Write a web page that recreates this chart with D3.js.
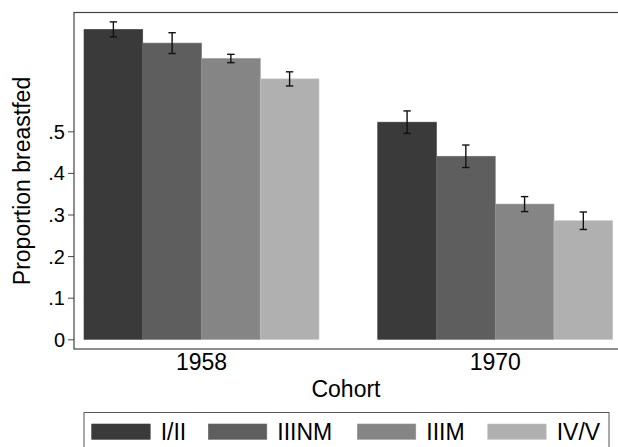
<!DOCTYPE html>
<html>
<head>
<meta charset="utf-8">
<script src="https://cdn.jsdelivr.net/npm/d3@7"></script>
<style>
  body { margin: 0; background: #fff; }
  text { font-family: "Liberation Sans", Arial, Helvetica, sans-serif; fill: #000; }
</style>
</head>
<body>
<svg id="chart"></svg>
<script>
const width = 618;
const height = 447;

// data
const cohorts = ["1958", "1970"];
const classes = ["I/II", "IIINM", "IIIM", "IV/V"];
const values1958 = [0.745, 0.712, 0.675, 0.626];
const values1970 = [0.522, 0.440, 0.325, 0.285];
const err1958 = [0.018, 0.025, 0.010, 0.017];
const err1970 = [0.027, 0.027, 0.018, 0.021];
const yTicks = [0, 0.1, 0.2, 0.3, 0.4, 0.5];
const yTickLabels = ["0", ".1", ".2", ".3", ".4", ".5"];
const colors = ["#3a3a3a", "#5e5e5e", "#858585", "#b0b0b0"];

const rows = [];
cohorts.forEach((c, i) => {
    const vals = i === 0 ? values1958 : values1970;
    const errs = i === 0 ? err1958 : err1970;
    classes.forEach((k, j) => rows.push({ cohort: c, cls: k, value: vals[j], err: errs[j] }));
});

const svg = d3.select("#chart")
    .attr("width", width)
    .attr("height", height);

const frame = { left: 74, top: 12.5, right: 620, bottom: 349 };

const x0 = d3.scaleBand().domain(cohorts).range([84, 612.7]).paddingInner(0.2).paddingOuter(0);
const x1 = d3.scaleBand().domain(classes).range([0, x0.bandwidth()]).padding(0);
const y = d3.scaleLinear().domain([0, 0.5]).range([339.3, 131.3]);
const color = d3.scaleOrdinal().domain(classes).range(colors);

// plot frame
svg.append("rect")
    .attr("x", frame.left)
    .attr("y", frame.top)
    .attr("width", frame.right - frame.left)
    .attr("height", frame.bottom - frame.top)
    .attr("fill", "#fff")
    .attr("stroke", "#444")
    .attr("stroke-width", 1.2);

// bars
svg.append("g").selectAll("rect")
    .data(rows)
    .enter()
    .append("rect")
    .attr("x", d => x0(d.cohort) + x1(d.cls))
    .attr("y", d => y(d.value))
    .attr("width", x1.bandwidth())
    .attr("height", d => y(0) - y(d.value))
    .attr("fill", d => color(d.cls))
    .attr("stroke", d => d3.color(color(d.cls)).brighter(0.3))
    .attr("stroke-width", 0.6);

// error bars
const eb = svg.append("g").attr("stroke", "#111").attr("stroke-width", 1.4).attr("fill", "none");
rows.forEach(d => {
    const cx = x0(d.cohort) + x1(d.cls) + x1.bandwidth() / 2;
    const hi = y(d.value + d.err), lo = y(d.value - d.err);
    eb.append("line").attr("x1", cx).attr("x2", cx).attr("y1", hi).attr("y2", lo);
    eb.append("line").attr("x1", cx - 3.7).attr("x2", cx + 3.7).attr("y1", hi).attr("y2", hi);
    eb.append("line").attr("x1", cx - 3.7).attr("x2", cx + 3.7).attr("y1", lo).attr("y2", lo);
});

// y axis ticks
const yAxis = d3.axisLeft(y)
    .tickValues(yTicks)
    .tickFormat((d, i) => yTickLabels[i])
    .tickSize(6)
    .tickPadding(3);
const ya = svg.append("g").attr("transform", `translate(${frame.left},0)`).call(yAxis);
ya.select(".domain").remove();
ya.selectAll(".tick line").attr("stroke", "#444");
ya.selectAll(".tick text").style("font-size", "20px").attr("dy", "0.35em");

// x axis labels
const xAxis = d3.axisBottom(x0).tickSize(0).tickPadding(0);
const xa = svg.append("g").attr("transform", `translate(0,${frame.bottom})`).call(xAxis);
xa.select(".domain").remove();
xa.selectAll(".tick text").style("font-size", "23px").attr("y", 21).attr("dy", 0);

// axis titles
svg.append("text")
    .attr("x", (frame.left + frame.right) / 2 - 1)
    .attr("y", 396.5)
    .attr("text-anchor", "middle")
    .style("font-size", "23px")
    .text("Cohort");

svg.append("text")
    .attr("transform", `translate(30,181) rotate(-90)`)
    .attr("text-anchor", "middle")
    .style("font-size", "23px")
    .text("Proportion breastfed");

// legend
const legend = svg.append("g");
legend.append("rect")
    .attr("x", 84)
    .attr("y", 412.5)
    .attr("width", 525)
    .attr("height", 60)
    .attr("fill", "#fff")
    .attr("stroke", "#555")
    .attr("stroke-width", 1);

const legendX = [91.7, 208.3, 357.3, 487.7];
const items = legend.selectAll("g.item")
    .data(classes)
    .enter()
    .append("g")
    .attr("class", "item")
    .attr("transform", (d, i) => `translate(${legendX[i]},424)`);

items.append("rect")
    .attr("width", 58.5)
    .attr("height", 15.3)
    .attr("fill", d => color(d))
    .attr("stroke", d => d3.color(color(d)).brighter(0.3))
    .attr("stroke-width", 0.6);

items.append("text")
    .attr("x", 69)
    .attr("y", 16)
    .style("font-size", "23px")
    .text(d => d);
</script>
</body>
</html>
